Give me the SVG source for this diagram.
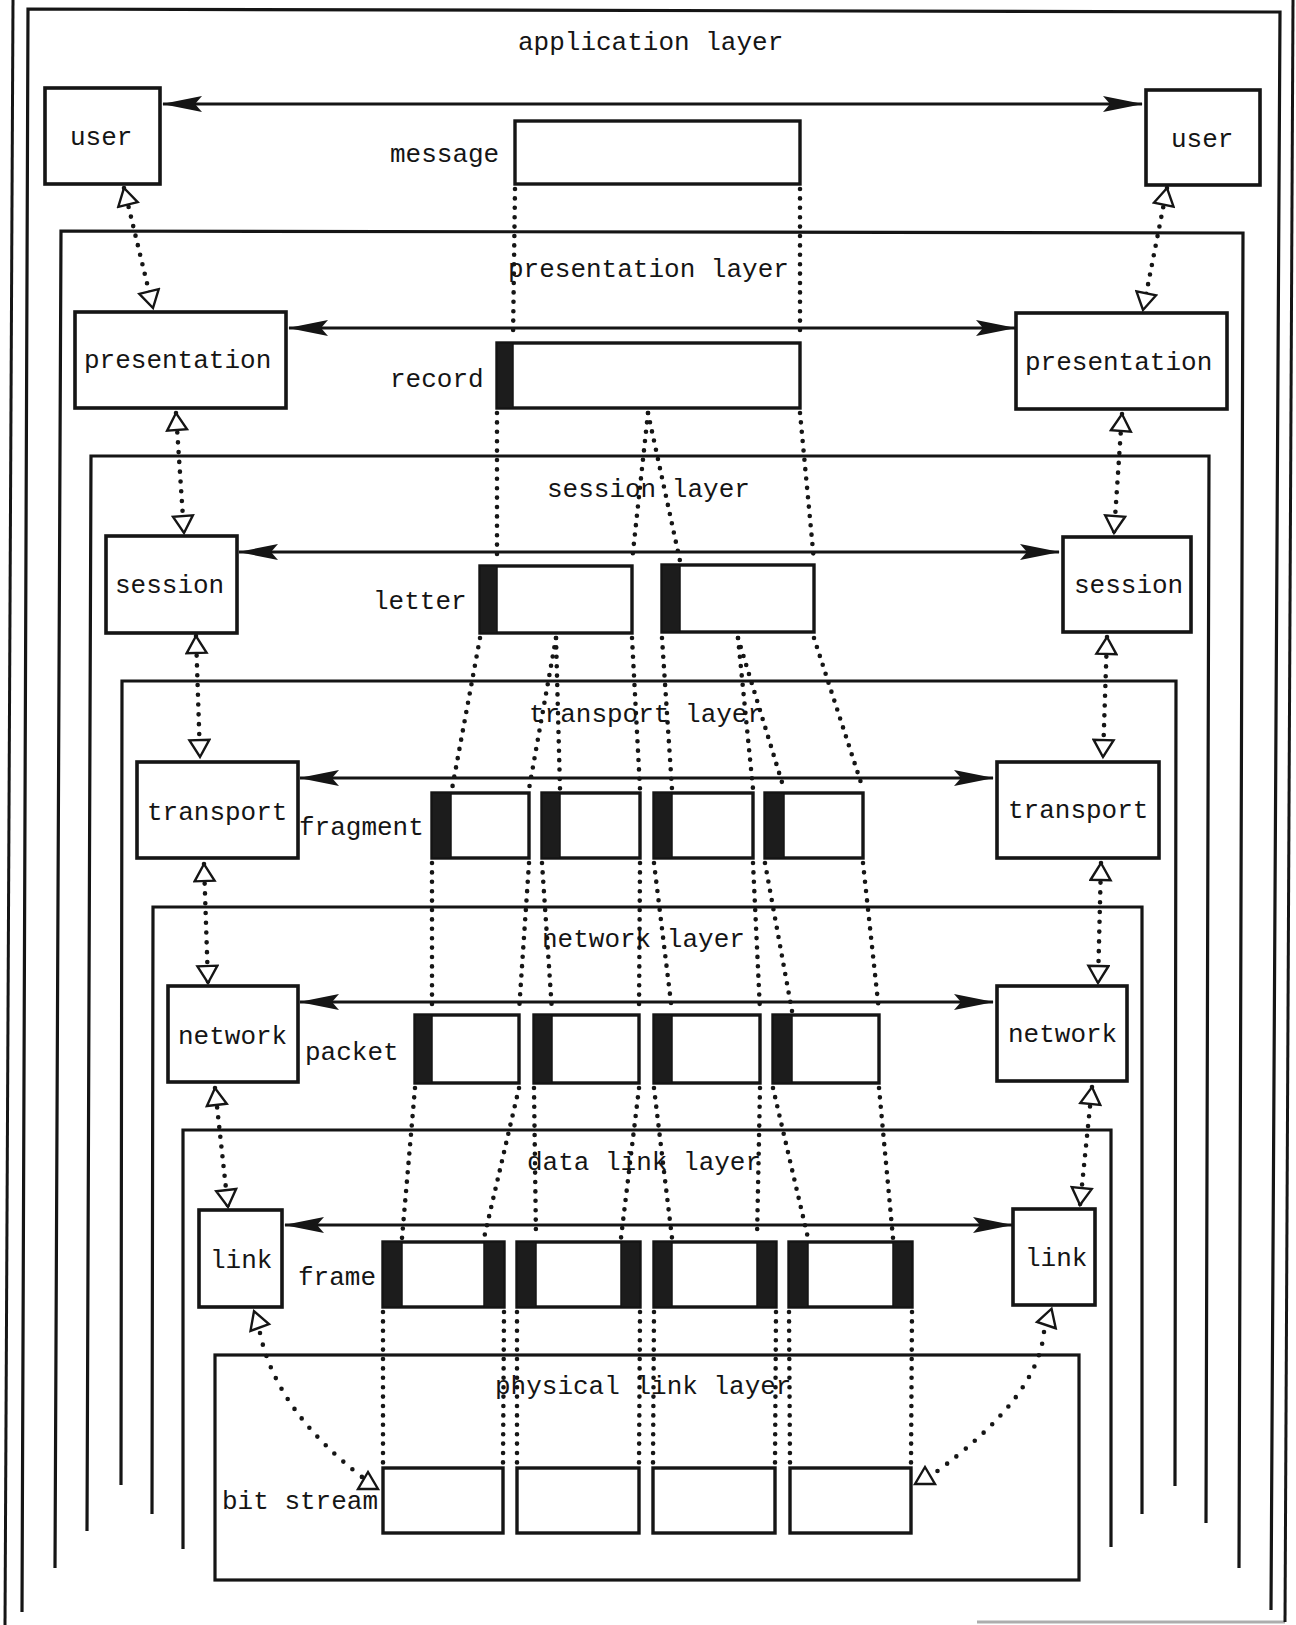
<svg xmlns="http://www.w3.org/2000/svg" width="1296" height="1625" viewBox="0 0 1296 1625">
<style>
.bg{fill:#fff}
.frame{fill:none;stroke:#151515;stroke-width:3}
.layer{fill:none;stroke:#151515;stroke-width:3.2;stroke-linejoin:miter}
.node{fill:#fff;stroke:#151515;stroke-width:3.6}
.pdu{fill:#fff;stroke:#151515;stroke-width:3.4}
.hdr{fill:#1c1c1c;stroke:#151515;stroke-width:1.5}
.t{font-family:"Liberation Mono","DejaVu Sans Mono",monospace;font-size:26px;fill:#151515}
.flow{fill:none;stroke:#151515;stroke-width:4.6;stroke-linecap:round;stroke-dasharray:0 9.4}
.ctl{fill:none;stroke:#151515;stroke-width:4.6;stroke-linecap:round;stroke-dasharray:0 9.8;marker-start:url(#tri);marker-end:url(#tri)}
.ctlc{fill:none;stroke:#151515;stroke-width:4.6;stroke-linecap:round;stroke-dasharray:0 12}
.tri{fill:#fff;stroke:#151515;stroke-width:2.4;stroke-linejoin:miter}
.peer{fill:none;stroke:#151515;stroke-width:2.8;marker-start:url(#ah);marker-end:url(#ah)}
</style>
<defs>
<marker id="ah" viewBox="0 0 40 17" refX="39" refY="8.5" markerWidth="40" markerHeight="17" markerUnits="userSpaceOnUse" orient="auto-start-reverse">
<path d="M0,0.5 L40,8.5 L0,16.5 L7,8.5 Z" fill="#151515"/>
</marker>
<marker id="tri" viewBox="-2 -2 22 24" refX="17" refY="10" markerWidth="22" markerHeight="24" markerUnits="userSpaceOnUse" orient="auto-start-reverse">
<path d="M0,0 L17,10 L0,20 Z" fill="#fff" stroke="#151515" stroke-width="2.4" stroke-linejoin="miter"/>
</marker>
<path id="tri-head" class="tri" d="M-17,-10 L0,0 L-17,10 Z"/>
</defs>
<rect class="bg" x="0" y="0" width="1296" height="1625"/>

<g id="page-frame">
<path class="frame" d="M13,0 L5,1625"/>
<path class="frame" d="M1293,0 L1285,1622"/>
<path class="frame" d="M977,1622 L1285,1622" stroke-opacity="0.35"/>
</g>

<g id="layers">
<g id="application-layer">
<path class="layer" d="M22,1612 L28,9 L1280,12 L1271,1610"/>
<text class="t" x="518" y="50">application layer</text>
</g>
<g id="presentation-layer">
<path class="layer" d="M55,1568 L61,231 L1243,233 L1239,1568"/>
<text class="t" x="508" y="277">presentation layer</text>
</g>
<g id="session-layer">
<path class="layer" d="M87,1531 L91,456 L1209,456 L1206,1523"/>
<text class="t" x="547" y="497">session layer</text>
</g>
<g id="transport-layer">
<path class="layer" d="M121,1485 L122,681 L1176,681 L1175,1486"/>
<text class="t" x="529" y="722">transport layer</text>
</g>
<g id="network-layer">
<path class="layer" d="M152,1514 L153,907 L1142,907 L1142,1514"/>
<text class="t" x="542" y="947">network layer</text>
</g>
<g id="data-link-layer">
<path class="layer" d="M183,1549 L183,1130 L1111,1130 L1111,1547"/>
<text class="t" x="527" y="1170">data link layer</text>
</g>
<g id="physical-link-layer">
<rect class="layer" x="215" y="1355" width="864" height="225"/>
<text class="t" x="495" y="1394">physical link layer</text>
</g>
</g>

<g id="connectors">
<g id="peer-arrows">
<path class="peer" d="M163,104 L1142,104"/>
<path class="peer" d="M289,328 L1015,328"/>
<path class="peer" d="M239,552 L1059,552"/>
<path class="peer" d="M300,778 L993,778"/>
<path class="peer" d="M300,1002 L993,1002"/>
<path class="peer" d="M285,1225 L1012,1225"/>
</g>
<g id="service-arrows">
<path class="ctl" d="M124,188 L153,308"/>
<path class="ctl" d="M176,413 L184,533"/>
<path class="ctl" d="M196,636 L200,757"/>
<path class="ctl" d="M204,864 L208,983"/>
<path class="ctl" d="M215,1088 L228,1207"/>
<path class="ctl" d="M1167,188 L1143,310"/>
<path class="ctl" d="M1122,414 L1114,533"/>
<path class="ctl" d="M1107,637 L1103,757"/>
<path class="ctl" d="M1101,863 L1098,983"/>
<path class="ctl" d="M1092,1087 L1080,1205"/>
<path class="ctlc" d="M260,1333 Q276,1410 362,1477"/>
<use href="#tri-head" transform="translate(269,1324) rotate(10)"/>
<use href="#tri-head" transform="translate(368,1472) rotate(-90)"/>
<path class="ctlc" d="M1044,1332 Q1038,1398 932,1475"/>
<use href="#tri-head" transform="translate(1037,1322) rotate(168)"/>
<use href="#tri-head" transform="translate(925,1467) rotate(-90)"/>
</g>
<g id="encapsulation">
<path class="flow" d="M515,189 L513,339"/>
<path class="flow" d="M800,189 L800,339"/>
<path class="flow" d="M497,413 L497,561"/>
<path class="flow" d="M648,413 L632,561"/>
<path class="flow" d="M648,413 L680,561"/>
<path class="flow" d="M800,413 L814,561"/>
<path class="flow" d="M480,638 L452,789"/>
<path class="flow" d="M556,638 L529,789"/>
<path class="flow" d="M556,638 L560,789"/>
<path class="flow" d="M632,638 L640,789"/>
<path class="flow" d="M662,638 L672,789"/>
<path class="flow" d="M738,638 L753,789"/>
<path class="flow" d="M738,638 L784,789"/>
<path class="flow" d="M814,638 L863,789"/>
<path class="flow" d="M432,863 L432,1011"/>
<path class="flow" d="M529,863 L519,1011"/>
<path class="flow" d="M542,863 L552,1011"/>
<path class="flow" d="M640,863 L639,1011"/>
<path class="flow" d="M654,863 L672,1011"/>
<path class="flow" d="M753,863 L760,1011"/>
<path class="flow" d="M765,863 L792,1011"/>
<path class="flow" d="M863,863 L879,1011"/>
<path class="flow" d="M415,1088 L402,1238"/>
<path class="flow" d="M519,1088 L484,1238"/>
<path class="flow" d="M534,1088 L536,1238"/>
<path class="flow" d="M639,1088 L621,1238"/>
<path class="flow" d="M654,1088 L672,1238"/>
<path class="flow" d="M760,1088 L757,1238"/>
<path class="flow" d="M773,1088 L808,1238"/>
<path class="flow" d="M879,1088 L893,1238"/>
<path class="flow" d="M383,1312 L383,1464"/>
<path class="flow" d="M504,1312 L503,1464"/>
<path class="flow" d="M517,1312 L517,1464"/>
<path class="flow" d="M640,1312 L639,1464"/>
<path class="flow" d="M654,1312 L653,1464"/>
<path class="flow" d="M776,1312 L775,1464"/>
<path class="flow" d="M789,1312 L790,1464"/>
<path class="flow" d="M912,1312 L911,1464"/>
</g>
</g>

<g id="user-left"><rect class="node" x="45" y="88" width="115" height="96"/><text class="t" x="70" y="145">user</text></g>
<g id="user-right"><rect class="node" x="1146" y="90" width="114" height="95"/><text class="t" x="1171" y="147">user</text></g>
<g id="presentation-left"><rect class="node" x="75" y="312" width="211" height="96"/><text class="t" x="84" y="368">presentation</text></g>
<g id="presentation-right"><rect class="node" x="1016" y="313" width="211" height="96"/><text class="t" x="1025" y="370">presentation</text></g>
<g id="session-left"><rect class="node" x="106" y="536" width="131" height="97"/><text class="t" x="115" y="593">session</text></g>
<g id="session-right"><rect class="node" x="1063" y="537" width="128" height="95"/><text class="t" x="1074" y="593">session</text></g>
<g id="transport-left"><rect class="node" x="137" y="762" width="161" height="96"/><text class="t" x="147" y="820">transport</text></g>
<g id="transport-right"><rect class="node" x="997" y="762" width="162" height="96"/><text class="t" x="1008" y="818">transport</text></g>
<g id="network-left"><rect class="node" x="168" y="986" width="130" height="96"/><text class="t" x="178" y="1044">network</text></g>
<g id="network-right"><rect class="node" x="997" y="986" width="130" height="95"/><text class="t" x="1008" y="1042">network</text></g>
<g id="link-left"><rect class="node" x="199" y="1210" width="83" height="97"/><text class="t" x="210" y="1268">link</text></g>
<g id="link-right"><rect class="node" x="1013" y="1209" width="82" height="96"/><text class="t" x="1025" y="1266">link</text></g>

<g id="message">
<text class="t" x="390" y="162">message</text>
<rect class="pdu" x="515" y="121" width="285" height="63"/>
</g>
<g id="record">
<text class="t" x="390" y="387">record</text>
<rect class="pdu" x="497" y="343" width="303" height="65"/>
<rect class="hdr" x="497" y="343" width="16" height="65"/>
</g>
<g id="letters">
<text class="t" x="373" y="609">letter</text>
<rect class="pdu" x="480" y="566" width="152" height="67"/>
<rect class="hdr" x="480" y="566" width="17" height="67"/>
<rect class="pdu" x="662" y="565" width="152" height="67"/>
<rect class="hdr" x="662" y="565" width="18" height="67"/>
</g>
<g id="fragments">
<text class="t" x="299" y="835">fragment</text>
<rect class="pdu" x="432" y="793" width="97" height="65"/>
<rect class="hdr" x="432" y="793" width="19" height="65"/>
<rect class="pdu" x="542" y="793" width="98" height="65"/>
<rect class="hdr" x="542" y="793" width="18" height="65"/>
<rect class="pdu" x="654" y="793" width="99" height="65"/>
<rect class="hdr" x="654" y="793" width="18" height="65"/>
<rect class="pdu" x="765" y="793" width="98" height="65"/>
<rect class="hdr" x="765" y="793" width="19" height="65"/>
</g>
<g id="packets">
<text class="t" x="305" y="1060">packet</text>
<rect class="pdu" x="415" y="1015" width="104" height="68"/>
<rect class="hdr" x="415" y="1015" width="17" height="68"/>
<rect class="pdu" x="534" y="1015" width="105" height="68"/>
<rect class="hdr" x="534" y="1015" width="18" height="68"/>
<rect class="pdu" x="654" y="1015" width="106" height="68"/>
<rect class="hdr" x="654" y="1015" width="18" height="68"/>
<rect class="pdu" x="773" y="1015" width="106" height="68"/>
<rect class="hdr" x="773" y="1015" width="19" height="68"/>
</g>
<g id="frames">
<text class="t" x="298" y="1285">frame</text>
<rect class="pdu" x="383" y="1242" width="121" height="65"/>
<rect class="hdr" x="383" y="1242" width="19" height="65"/>
<rect class="hdr" x="484" y="1242" width="20" height="65"/>
<rect class="pdu" x="517" y="1242" width="123" height="65"/>
<rect class="hdr" x="517" y="1242" width="19" height="65"/>
<rect class="hdr" x="621" y="1242" width="19" height="65"/>
<rect class="pdu" x="654" y="1242" width="122" height="65"/>
<rect class="hdr" x="654" y="1242" width="18" height="65"/>
<rect class="hdr" x="757" y="1242" width="19" height="65"/>
<rect class="pdu" x="789" y="1242" width="123" height="65"/>
<rect class="hdr" x="789" y="1242" width="19" height="65"/>
<rect class="hdr" x="893" y="1242" width="19" height="65"/>
</g>
<g id="bit-stream">
<text class="t" x="222" y="1509">bit stream</text>
<rect class="pdu" x="383" y="1468" width="120" height="65"/>
<rect class="pdu" x="517" y="1468" width="122" height="65"/>
<rect class="pdu" x="653" y="1468" width="122" height="65"/>
<rect class="pdu" x="790" y="1468" width="121" height="65"/>
</g>
</svg>
